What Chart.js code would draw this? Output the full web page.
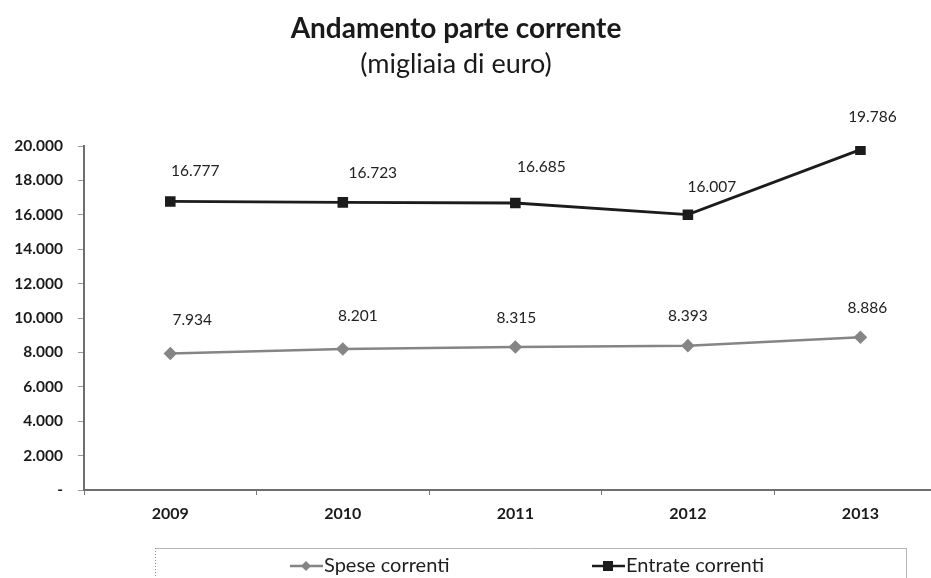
<!DOCTYPE html>
<html lang="it">
<head>
<meta charset="utf-8">
<title>Andamento parte corrente</title>
<script src="https://cdn.jsdelivr.net/npm/chart.js@4/dist/chart.umd.min.js"></script>
<style>
  html, body { margin: 0; padding: 0; background: #ffffff; overflow: hidden; }
  #wrap { position: relative; width: 955px; height: 578px; }
</style>
</head>
<body>
<div id="wrap"><canvas id="chart" width="955" height="578"></canvas></div>
<script>
// Data
const years = ['2009', '2010', '2011', '2012', '2013'];
const speseCorrenti = [7934, 8201, 8315, 8393, 8886];
const entrateCorrenti = [16777, 16723, 16685, 16007, 19786];
const yTicks = [0, 2000, 4000, 6000, 8000, 10000, 12000, 14000, 16000, 18000, 20000];

const FONT = 'Lato, "Open Sans", "DejaVu Sans", sans-serif';

// Italian number format: thousands separated by a dot, zero shown as "-"
function fmtIt(v) {
  const s = String(Math.round(v));
  return s.replace(/\B(?=(\d{3})+(?!\d))/g, '.');
}
function fmtTick(v) {
  return v === 0 ? '-' : fmtIt(v);
}

// Label placement relative to each point (pixels)
const labelShift = {
  entrate: [[25, -30], [30, -29], [26, -36], [24, -28], [12, -33]],
  spese:   [[22, -34], [15, -33], [1, -29], [0, -30], [7, -29]]
};

const titlePlugin = {
  id: 'titles',
  afterDraw(chart) {
    const ctx = chart.ctx;
    ctx.save();
    ctx.fillStyle = '#1a1a1a';
    ctx.textAlign = 'center';
    ctx.textBaseline = 'middle';
    ctx.font = 'bold 28px ' + FONT;
    ctx.fillText('Andamento parte corrente', 456, 29);
    ctx.font = '27px ' + FONT;
    ctx.fillText('(migliaia di euro)', 456, 64);
    ctx.restore();
  }
};

const valueLabels = {
  id: 'valueLabels',
  afterDatasetsDraw(chart) {
    const ctx = chart.ctx;
    ctx.save();
    ctx.font = '15.5px ' + FONT;
    ctx.fillStyle = '#222';
    ctx.textAlign = 'center';
    ctx.textBaseline = 'middle';
    chart.data.datasets.forEach((ds, di) => {
      const meta = chart.getDatasetMeta(di);
      const shifts = labelShift[ds.key];
      meta.data.forEach((pt, i) => {
        ctx.fillText(fmtIt(ds.data[i]), pt.x + shifts[i][0], pt.y + shifts[i][1]);
      });
    });
    ctx.restore();
  }
};

const legendBox = {
  id: 'legendBox',
  afterDraw(chart) {
    const ctx = chart.ctx;
    ctx.save();
    const left = 155, right = 906, top = 548, bottom = 580;
    ctx.strokeStyle = '#b5b5b5';
    ctx.lineWidth = 1;
    ctx.beginPath();
    ctx.moveTo(left, top + 0.5); ctx.lineTo(right, top + 0.5);
    ctx.moveTo(right + 0.5, top); ctx.lineTo(right + 0.5, bottom);
    ctx.stroke();
    ctx.setLineDash([1, 2]);
    ctx.strokeStyle = '#888';
    ctx.beginPath();
    ctx.moveTo(left + 0.5, top); ctx.lineTo(left + 0.5, bottom);
    ctx.stroke();
    ctx.setLineDash([]);

    const cy = 566;
    const items = [
      { x: 290, ds: chart.data.datasets[0] },
      { x: 592, ds: chart.data.datasets[1] }
    ];
    items.forEach(it => {
      const ds = it.ds;
      ctx.strokeStyle = ds.borderColor;
      ctx.lineWidth = 2.5;
      ctx.beginPath();
      ctx.moveTo(it.x, cy); ctx.lineTo(it.x + 33, cy);
      ctx.stroke();
      ctx.fillStyle = ds.pointBackgroundColor;
      const mx = it.x + 16;
      ctx.beginPath();
      if (ds.pointStyle === 'rectRot') {
        ctx.moveTo(mx, cy - 5); ctx.lineTo(mx + 5, cy); ctx.lineTo(mx, cy + 5); ctx.lineTo(mx - 5, cy);
      } else {
        ctx.rect(mx - 5, cy - 5, 10, 10);
      }
      ctx.closePath();
      ctx.fill();
      ctx.fillStyle = '#1e1e1e';
      ctx.font = '20px ' + FONT;
      ctx.textAlign = 'left';
      ctx.textBaseline = 'middle';
      ctx.fillText(ds.label, it.x + 34, cy);
    });
    ctx.restore();
  }
};

new Chart(document.getElementById('chart'), {
  type: 'line',
  data: {
    labels: years,
    datasets: [
      {
        key: 'spese',
        label: 'Spese correnti',
        data: speseCorrenti,
        borderColor: '#858585',
        backgroundColor: '#858585',
        pointBackgroundColor: '#858585',
        pointBorderColor: '#858585',
        pointStyle: 'rectRot',
        pointRadius: 5,
        borderWidth: 2.5,
        tension: 0
      },
      {
        key: 'entrate',
        label: 'Entrate correnti',
        data: entrateCorrenti,
        borderColor: '#1c1c1c',
        backgroundColor: '#1c1c1c',
        pointBackgroundColor: '#1c1c1c',
        pointBorderColor: '#1c1c1c',
        pointStyle: 'rect',
        pointRadius: 5.5,
        borderWidth: 2.8,
        tension: 0
      }
    ]
  },
  options: {
    responsive: false,
    animation: false,
    layout: { padding: { top: 146, right: 3, bottom: 0, left: 0 } },
    plugins: {
      legend: { display: false },
      title: { display: false },
      tooltip: { enabled: false }
    },
    scales: {
      x: {
        offset: true,
        grid: {
          offset: true,
          drawOnChartArea: false,
          drawTicks: true,
          tickLength: 5,
          color: '#777'
        },
        border: { color: '#6e6e6e', width: 2 },
        ticks: {
          font: { family: FONT, size: 16, weight: 'bold' },
          color: '#1a1a1a',
          padding: 9
        },
        afterFit(scale) { scale.height = 88; }
      },
      y: {
        min: 0,
        max: 20000,
        afterBuildTicks(scale) { scale.ticks = yTicks.map(v => ({ value: v })); },
        grid: {
          drawOnChartArea: false,
          drawTicks: true,
          tickLength: 6,
          color: '#999'
        },
        border: { color: '#6e6e6e', width: 2 },
        ticks: {
          font: { family: FONT, size: 15.5, weight: 'bold' },
          color: '#1a1a1a',
          padding: 15,
          callback: v => fmtTick(v)
        },
        afterFit(scale) { scale.width = 84; }
      }
    }
  },
  plugins: [titlePlugin, valueLabels, legendBox]
});
</script>
</body>
</html>
